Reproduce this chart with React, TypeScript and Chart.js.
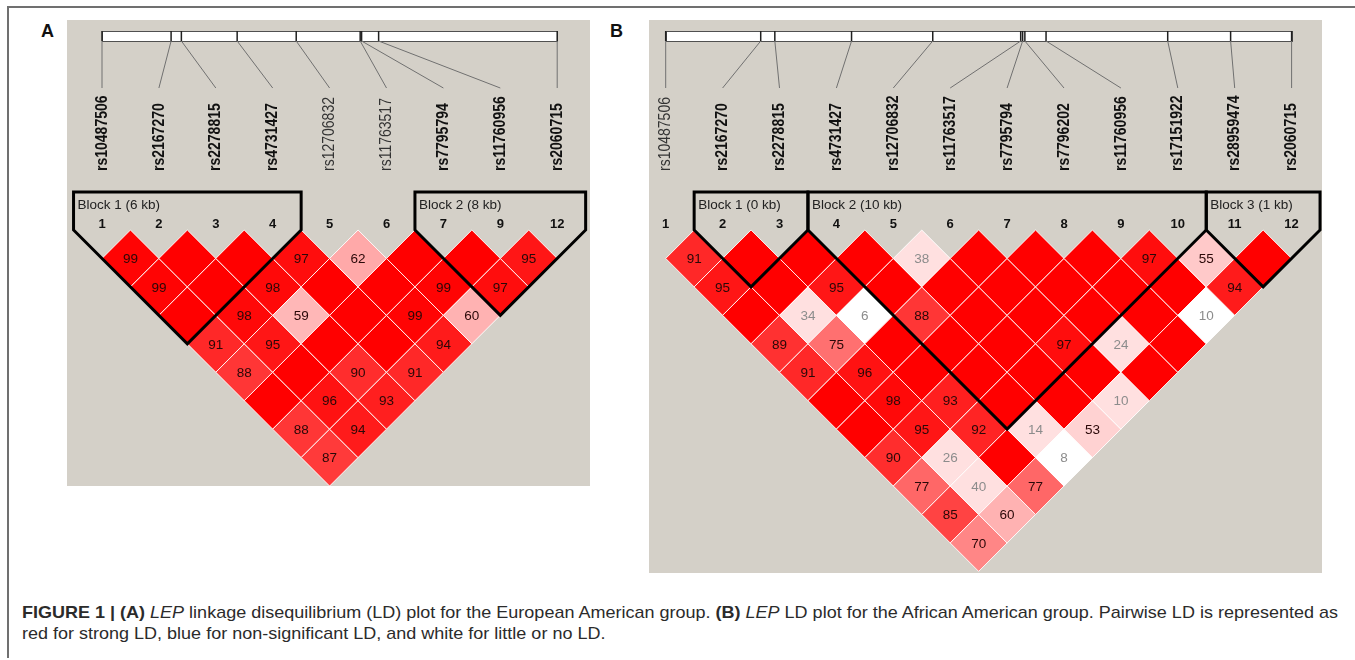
import React, { useEffect, useLayoutEffect, useRef } from "react";
import { Chart, registerables } from "chart.js";

Chart.register(...registerables);

// ---------------- data ----------------
const markerNames = [
  "rs10487506", "rs2167270", "rs2278815", "rs4731427", "rs12706832", "rs11763517",
  "rs7795794", "rs7796202", "rs11760956", "rs17151922", "rs28959474", "rs2060715",
];
// physical positions (kb) of the 12 SNPs along the LEP region
const markerPositionsKb = [0, 2.96, 3.4, 5.79, 8.32, 11.06, 11.12, 11.19, 11.85, 15.64, 17.6, 19.5];

// Panel A (European American)
const markersA = [1, 2, 3, 4, 5, 6, 7, 9, 12];
const plainMarkersA = [5, 6];
// D' x100, row r = pairs (r, r+1 .. n) in panel marker order
const dprimeA = [
  [99, 99, 100, 91, 88, 100, 88, 87],
  [100, 100, 98, 95, 100, 96, 94],
  [100, 98, 59, 100, 90, 93],
  [97, 100, 100, 100, 91],
  [62, 100, 99, 94],
  [100, 99, 60],
  [100, 97],
  [95],
];
const lowLodA: string[] = [];
const blockStartsA = [1, 7];
const blockEndsA = [4, 9];
const blockLabelsA = ["Block 1 (6 kb)", "Block 2 (8 kb)"];

// Panel B (African American)
const markersB = [1, 2, 3, 4, 5, 6, 7, 8, 9, 10, 11, 12];
const plainMarkersB = [1];
const dprimeB = [
  [91, 95, 100, 89, 91, 100, 100, 90, 77, 85, 70],
  [100, 100, 34, 75, 96, 98, 95, 26, 40, 60],
  [100, 95, 6, 100, 100, 93, 92, 100, 77],
  [100, 100, 88, 100, 100, 100, 14, 8],
  [38, 100, 100, 100, 100, 100, 53],
  [100, 100, 100, 97, 100, 10],
  [100, 100, 100, 24, 100],
  [100, 100, 100, 100],
  [97, 100, 10],
  [55, 94],
  [100],
];
const lowLodB = ["3-6", "4-12", "9-12"];
const blockStartsB = [2, 4, 11];
const blockEndsB = [3, 10, 12];
const blockLabelsB = ["Block 1 (0 kb)", "Block 2 (10 kb)", "Block 3 (1 kb)"];

// ---------------- layout ----------------
const UNIT = 56.9; // px per marker step
const ZERO_Y = 210; // px from panel top to first diamond row top
const FONT = '"Liberation Sans", Arial, Helvetica, sans-serif';

function ldColor(v: number, low: boolean) {
  if (low) return "rgb(255,255,255)";
  if (v >= 100) return "rgb(255,0,0)";
  if (v < 50) return "rgb(255,224,224)";
  const g = Math.round(223 * 2 * (1 - v / 100));
  return `rgb(255,${g},${g})`;
}

type PanelProps = {
  markers: number[];
  plain: number[];
  dprime: number[][];
  lowLod: string[];
  blockStarts: number[];
  blockEnds: number[];
  blockLabels: string[];
  left: number;
  top: number;
  width: number;
  height: number;
  firstPx: number;
};

function LDPanel(p: PanelProps) {
  const ref = useRef<HTMLCanvasElement>(null);
  useEffect(() => {
    const n = p.markers.length;
    const xMin = 1 - p.firstPx / UNIT;
    const xMax = xMin + p.width / UNIT;
    const yMin = -ZERO_Y / UNIT;
    const yMax = yMin + p.height / UNIT;

    const cells: { i: number; j: number; v: number; low: boolean }[] = [];
    p.dprime.forEach((row, r) =>
      row.forEach((v, c) => {
        const i = r + 1;
        const j = r + 2 + c;
        cells.push({ i, j, v, low: p.lowLod.includes(`${i}-${j}`) });
      })
    );

    const blockTop = -38 / UNIT;
    const blockSets = p.blockStarts.map((a, k) => {
      const b = p.blockEnds[k];
      return {
        type: "scatter" as const,
        showLine: true,
        data: [
          { x: (a + b) / 2, y: blockTop },
          { x: b + 0.5, y: blockTop },
          { x: b + 0.5, y: 0 },
          { x: (a + b) / 2, y: (b - a) / 2 + 0.5 },
          { x: a - 0.5, y: 0 },
          { x: a - 0.5, y: blockTop },
          { x: (a + b) / 2, y: blockTop },
        ],
        borderColor: "#000000",
        borderWidth: 3,
        borderJoinStyle: "miter" as const,
        pointRadius: 0,
        fill: false,
        tension: 0,
        order: 1,
        clip: false as const,
      };
    });

    const p0 = markerPositionsKb[p.markers[0] - 1];
    const pN = markerPositionsKb[p.markers[n - 1] - 1];

    const decor = {
      id: "ldDecor",
      beforeDatasetsDraw(chart: any) {
        const ctx = chart.ctx as CanvasRenderingContext2D;
        const xs = chart.scales.x;
        const ys = chart.scales.y;
        const y0 = ys.getPixelForValue(0);
        const rTop = y0 - 199;
        const rBot = y0 - 189;
        const xL = xs.getPixelForValue(1);
        const xR = xs.getPixelForValue(n);
        ctx.save();
        // ruler
        ctx.fillStyle = "#ffffff";
        ctx.fillRect(xL, rTop, xR - xL, rBot - rTop);
        ctx.strokeStyle = "#505050";
        ctx.lineWidth = 1;
        ctx.strokeRect(Math.round(xL) + 0.5, Math.round(rTop) + 0.5, Math.round(xR - xL), Math.round(rBot - rTop));
        p.markers.forEach((m, k) => {
          const pos = markerPositionsKb[m - 1];
          const tx = xs.getPixelForValue(1 + ((pos - p0) / (pN - p0)) * (n - 1));
          const lx = xs.getPixelForValue(k + 1);
          ctx.strokeStyle = "#202020";
          ctx.lineWidth = 1.5;
          ctx.beginPath();
          ctx.moveTo(tx, rTop);
          ctx.lineTo(tx, rBot);
          ctx.stroke();
          ctx.strokeStyle = "#707070";
          ctx.lineWidth = 1;
          ctx.beginPath();
          ctx.moveTo(tx, rBot);
          ctx.lineTo(lx, y0 - 142);
          ctx.stroke();
          // name
          const plain = p.plain.includes(m);
          ctx.save();
          ctx.translate(lx, y0 - 59);
          ctx.rotate(-Math.PI / 2);
          ctx.scale(1, 1.2);
          ctx.font = `${plain ? "" : "bold "}14px ${FONT}`;
          ctx.fillStyle = plain ? "#333333" : "#111111";
          ctx.textAlign = "left";
          ctx.textBaseline = "middle";
          ctx.fillText(markerNames[m - 1], 0, 0);
          ctx.restore();
          // number
          ctx.font = `bold 13px ${FONT}`;
          ctx.fillStyle = "#111111";
          ctx.textAlign = "center";
          ctx.textBaseline = "middle";
          ctx.fillText(String(m), lx, y0 - 6);
        });
        // block labels
        ctx.font = `13.5px ${FONT}`;
        ctx.fillStyle = "#222222";
        ctx.textAlign = "left";
        ctx.textBaseline = "middle";
        p.blockStarts.forEach((a, k) => {
          ctx.fillText(p.blockLabels[k], xs.getPixelForValue(a - 0.5) + 4, y0 - 25);
        });
        ctx.restore();
      },
      afterDatasetDraw(chart: any, args: any) {
        if (args.index !== 0) return;
        const ctx = chart.ctx as CanvasRenderingContext2D;
        const meta = chart.getDatasetMeta(0);
        ctx.save();
        ctx.font = `13.5px ${FONT}`;
        ctx.textAlign = "center";
        ctx.textBaseline = "middle";
        meta.data.forEach((el: any, k: number) => {
          const c = cells[k];
          if (c.v >= 100) return;
          ctx.fillStyle = c.v < 50 ? "#8c8c8c" : "#2a0808";
          ctx.fillText(String(c.v), el.x, el.y + 1);
        });
        ctx.restore();
      },
    };

    const chart = new Chart(ref.current as HTMLCanvasElement, {
      type: "scatter",
      data: {
        datasets: [
          {
            data: cells.map((c) => ({ x: (c.i + c.j) / 2, y: (c.j - c.i) / 2 })),
            pointStyle: "rectRot",
            pointRadius: (ctx: any) => {
              const s = ctx.chart.scales.x;
              return Math.abs(s.getPixelForValue(0.5) - s.getPixelForValue(0));
            },
            pointHoverRadius: (ctx: any) => {
              const s = ctx.chart.scales.x;
              return Math.abs(s.getPixelForValue(0.5) - s.getPixelForValue(0));
            },
            pointBackgroundColor: cells.map((c) => ldColor(c.v, c.low)),
            pointBorderColor: "rgba(255,255,255,0.9)",
            pointBorderWidth: 1,
            showLine: false,
            order: 2,
            clip: false as const,
          } as any,
          ...(blockSets as any[]),
        ],
      },
      options: {
        animation: false,
        responsive: false,
        events: [],
        layout: { padding: 0 },
        plugins: { legend: { display: false }, tooltip: { enabled: false } },
        scales: {
          x: { type: "linear", display: false, min: xMin, max: xMax },
          y: { type: "linear", display: false, min: yMin, max: yMax, reverse: true },
        },
      },
      plugins: [decor],
    });
    return () => chart.destroy();
  }, []);

  return (
    <div
      style={{
        position: "absolute",
        left: p.left,
        top: p.top,
        width: p.width,
        height: p.height,
        background: "#d4d0c8",
      }}
    >
      <canvas ref={ref} width={p.width} height={p.height} style={{ display: "block" }} />
    </div>
  );
}

function Caption() {
  const boxRef = useRef<HTMLDivElement>(null);
  const lineRef = useRef<HTMLSpanElement>(null);
  useLayoutEffect(() => {
    const box = boxRef.current;
    const line = lineRef.current;
    if (!box || !line) return;
    const w = line.getBoundingClientRect().width;
    if (w > 0) box.style.transform = `scaleX(${1316 / w})`;
  }, []);
  return (
    <div
      ref={boxRef}
      style={{
        position: "absolute",
        left: 22,
        top: 602,
        fontFamily: FONT,
        fontSize: 17,
        lineHeight: "21px",
        color: "#2b2b2b",
        whiteSpace: "nowrap",
        transformOrigin: "0 0",
      }}
    >
      <span ref={lineRef}>
        <b>FIGURE 1 | (A)</b> <i>LEP</i> linkage disequilibrium (LD) plot for the European American group.{" "}
        <b>(B)</b> <i>LEP</i> LD plot for the African American group. Pairwise LD is represented as
      </span>
      <br />
      <span>red for strong LD, blue for non-significant LD, and white for little or no LD.</span>
    </div>
  );
}

export default function App() {
  return (
    <div
      style={{
        position: "absolute",
        left: 0,
        top: 0,
        width: 1355,
        height: 660,
        background: "#ffffff",
        overflow: "hidden",
      }}
    >
      <div
        style={{
          position: "absolute",
          left: 7,
          top: 6,
          width: 1360,
          height: 650,
          borderTop: "2px solid #707070",
          borderLeft: "2px solid #707070",
        }}
      />
      <div style={{ position: "absolute", left: 41, top: 23, fontFamily: FONT, fontWeight: "bold", fontSize: 18, lineHeight: "17px", color: "#111" }}>A</div>
      <div style={{ position: "absolute", left: 610, top: 23, fontFamily: FONT, fontWeight: "bold", fontSize: 18, lineHeight: "17px", color: "#111" }}>B</div>
      <LDPanel
        markers={markersA}
        plain={plainMarkersA}
        dprime={dprimeA}
        lowLod={lowLodA}
        blockStarts={blockStartsA}
        blockEnds={blockEndsA}
        blockLabels={blockLabelsA}
        left={67}
        top={20}
        width={523}
        height={466}
        firstPx={35}
      />
      <LDPanel
        markers={markersB}
        plain={plainMarkersB}
        dprime={dprimeB}
        lowLod={lowLodB}
        blockStarts={blockStartsB}
        blockEnds={blockEndsB}
        blockLabels={blockLabelsB}
        left={649}
        top={20}
        width={673}
        height={553}
        firstPx={16.7}
      />
      <Caption />
    </div>
  );
}
